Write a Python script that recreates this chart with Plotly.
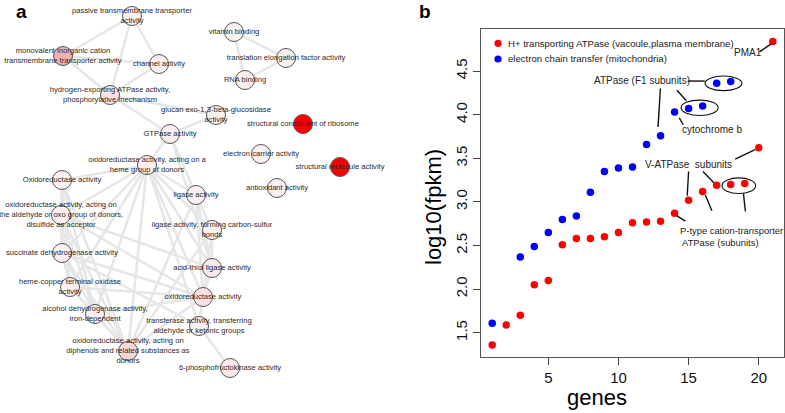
import plotly.graph_objects as go

W, H = 785, 413
FONT = "Liberation Sans, Arial, sans-serif"

# ---- panel a: GO term network (positions in reference pixels) ----
node_labels = [
    "passive transmembrane transporter<br>activity",
    "monovalent inorganic cation<br>transmembrane transporter activity",
    "channel activity",
    "hydrogen-exporting ATPase activity,<br>phosphorylative mechanism",
    "glucan exo-1,3-beta-glucosidase<br>activity",
    "GTPase activity",
    "vitamin binding",
    "translation elongation factor activity",
    "RNA binding",
    "structural constituent of ribosome",
    "oxidoreductase activity, acting on a<br>heme group of donors",
    "Oxidoreductase activity",
    "oxidoreductase activity, acting on<br>the aldehyde or oxo group of donors,<br>disulfide as acceptor",
    "succinate dehydrogenase activity",
    "electron carrier activity",
    "structural molecule activity",
    "antioxidant activity",
    "ligase activity",
    "ligase activity, forming carbon-sulfur<br>bonds",
    "acid-thiol ligase activity",
    "oxidoreductase activity",
    "transferase activity, transferring<br>aldehyde or ketonic groups",
    "6-phosphofructokinase activity",
    "heme-copper terminal oxidase<br>activity",
    "alcohol dehydrogenase activity,<br>iron-dependent",
    "oxidoreductase activity, acting on<br>diphenols and related substances as<br>donors",
]
node_x = [132, 63, 159, 110, 216, 170, 234, 286, 245, 303, 147, 62, 61, 62, 261, 340, 277,
          196, 212, 212, 203, 199, 230, 70, 95, 128]
node_y = [16, 56, 64, 95, 115, 134, 32, 58, 80, 124, 165, 180, 215, 253, 154, 167, 188,
          195, 230, 268, 297, 326, 368, 287, 314, 351]
node_fill = ["#fcefef", "#f4b0b0", "#fcefef", "#fbe2e2", "#fcefef", "#fcefef", "#fcefef",
             "#fcefef", "#fcefef", "#ff0000", "#fcefef", "#fcefef", "#fcefef", "#fcefef",
             "#fcefef", "#ff0000", "#fcefef", "#fcefef", "#fcefef", "#fce9e9", "#fbe2e2",
             "#fcefef", "#fce9e9", "#fcefef", "#fcefef", "#f9d4d4"]
edges = [
    (0, 1), (0, 2), (0, 3), (1, 2), (1, 3), (2, 3), (3, 5), (3, 4), (4, 5),
    (6, 7), (6, 8), (7, 8),
    (5, 10), (5, 17), (5, 19),
    (10, 11), (10, 12), (10, 13), (10, 23), (10, 24), (10, 25), (10, 17), (10, 18),
    (10, 19), (10, 20), (10, 21),
    (11, 12), (11, 13), (11, 23), (11, 24), (11, 25),
    (12, 13), (12, 23), (12, 24), (12, 25), (12, 20), (12, 19),
    (13, 23), (13, 24), (13, 25), (13, 20), (13, 21),
    (23, 24), (23, 25), (23, 20), (24, 25), (24, 20),
    (25, 20), (25, 17), (25, 18),
    (17, 18), (17, 19), (17, 20), (18, 19), (18, 20), (19, 20), (20, 21), (21, 22),
]

# ---- panel b: expression of ATPase / electron transfer genes ----
red_genes = list(range(1, 22))
red_log_fpkm = [1.36, 1.59, 1.70, 2.05, 2.10, 2.51, 2.58, 2.58, 2.60, 2.65, 2.76, 2.77,
                2.78, 2.87, 3.02, 3.12, 3.19, 3.20, 3.21, 3.62, 4.84]
blue_genes = [1] + list(range(3, 19))
blue_log_fpkm = [1.61, 2.37, 2.49, 2.65, 2.80, 2.84, 3.11, 3.35, 3.39, 3.40, 3.66, 3.76,
                 4.03, 4.07, 4.10, 4.36, 4.38]
legend_labels = ["H+ transporting ATPase (vacoule,plasma membrane)",
                 "electron chain transfer (mitochondria)"]
x_ticks = [5, 10, 15, 20]
y_ticks = [1.5, 2.0, 2.5, 3.0, 3.5, 4.0, 4.5]


def px(x):
    return x / W


def py(y):
    return 1 - y / H


fig = go.Figure()

ex, ey = [], []
for a, b in edges:
    ex += [node_x[a], node_x[b], None]
    ey += [node_y[a], node_y[b], None]
fig.add_trace(go.Scatter(x=ex, y=ey, mode="lines", xaxis="x2", yaxis="y2",
                         line=dict(color="#e6e6e6", width=2.5), hoverinfo="skip"))
fig.add_trace(go.Scatter(
    x=node_x, y=node_y, mode="markers+text", xaxis="x2", yaxis="y2",
    text=node_labels, textposition="middle center", cliponaxis=False,
    textfont=dict(family=FONT, size=7.6, color="#2a2a2a"),
    marker=dict(size=19, color=node_fill, line=dict(color="#555555", width=1)),
))

fig.add_trace(go.Scatter(x=red_genes, y=red_log_fpkm, mode="markers",
                         marker=dict(size=7.5, color="#ff0000"), name=legend_labels[0]))
fig.add_trace(go.Scatter(x=blue_genes, y=blue_log_fpkm, mode="markers",
                         marker=dict(size=7.5, color="#0000ff"), name=legend_labels[1]))

shapes = []
# legend dots
for yy, col in [(43.3, "#ff0000"), (59, "#0000ff")]:
    shapes.append(dict(type="circle", xref="paper", yref="paper", xsizemode="pixel",
                       ysizemode="pixel", xanchor=px(498), yanchor=py(yy),
                       x0=-3.6, x1=3.6, y0=-3.6, y1=3.6, fillcolor=col, line_width=0))
# callout lines (data coords)
callout_lines = [
    (20.05, 4.72, 20.86, 4.81),
    (14.93, 4.386, 16.15, 4.386),
    (12.99, 4.30, 12.82, 3.86),
    (14.17, 4.28, 14.84, 4.16),
    (14.33, 3.965, 14.62, 3.885),
    (18.32, 3.49, 19.74, 3.60),
    (15.00, 3.35, 14.90, 3.07),
    (16.02, 3.35, 16.80, 3.22),
    (18.91, 3.096, 19.05, 2.89),
    (16.19, 3.08, 16.66, 2.90),
    (14.17, 2.84, 14.77, 2.78),
]
for x0, y0, x1, y1 in callout_lines:
    shapes.append(dict(type="line", xref="x", yref="y", x0=x0, y0=y0, x1=x1, y1=y1,
                       line=dict(color="#111111", width=1.4)))
for x0, x1, y0, y1 in [(16.17, 18.80, 4.276, 4.444), (14.46, 17.11, 3.992, 4.168),
                       (17.38, 19.78, 3.096, 3.276)]:
    shapes.append(dict(type="circle", xref="x", yref="y", x0=x0, x1=x1, y0=y0, y1=y1,
                       line=dict(color="#111111", width=1.1)))

annotations = [
    dict(text="<b>a</b>", x=px(14), y=py(12), font=dict(family=FONT, size=19, color="#000")),
    dict(text="<b>b</b>", x=px(425), y=py(12), font=dict(family=FONT, size=19, color="#000")),
    dict(text=legend_labels[0], x=px(506), y=py(43.3), xanchor="left", font=dict(family=FONT, size=9.6, color="#222")),
    dict(text=legend_labels[1], x=px(506), y=py(59), xanchor="left", font=dict(family=FONT, size=9.6, color="#222")),
    dict(text="genes", x=px(629), y=py(397), font=dict(family=FONT, size=22, color="#000")),
    dict(text="log10(fpkm)", x=px(433), y=py(207), textangle=-90, font=dict(family=FONT, size=22, color="#000")),
]
for text, x, y, xa, size in [
    ("PMA1", 19.2, 4.71, "center", 10),
    ("ATPase (F1 subunits)", 11.66, 4.39, "center", 10),
    ("cytochrome b", 16.66, 3.833, "center", 10),
    ("V-ATPase  subunits", 15.0, 3.431, "center", 10),
    ("P-type cation-transporter<br> ATPase (subunits)", 14.25, 2.60, "left", 9.4),
]:
    annotations.append(dict(text=text, x=x, y=y, xref="x", yref="y", xanchor=xa, align="left",
                            font=dict(family=FONT, size=size, color="#222222")))
for a in annotations:
    a.setdefault("xref", "paper")
    a.setdefault("yref", "paper")
    a.setdefault("showarrow", False)
    a.setdefault("yanchor", "middle")

fig.update_layout(
    width=W, height=H, margin=dict(l=0, r=0, t=0, b=0),
    paper_bgcolor="white", plot_bgcolor="white", showlegend=False,
    shapes=shapes, annotations=annotations,
    xaxis=dict(domain=[px(481), px(784)], range=[0.2, 21.8], tickvals=x_ticks,
               ticks="outside", ticklen=7, tickcolor="#444", showgrid=False, zeroline=False,
               showline=True, mirror=True, linecolor="#555", linewidth=1.2,
               tickfont=dict(family=FONT, size=15, color="#111")),
    yaxis=dict(domain=[py(357), py(29)], range=[1.222, 4.983], tickvals=y_ticks,
               tickformat=".1f", tickangle=-90,
               ticks="outside", ticklen=7, tickcolor="#444", showgrid=False, zeroline=False,
               showline=True, mirror=True, linecolor="#555", linewidth=1.2,
               tickfont=dict(family=FONT, size=15, color="#111")),
    xaxis2=dict(domain=[0, px(470)], range=[0, 470], visible=False, anchor="y2"),
    yaxis2=dict(domain=[0, 1], range=[H, 0], visible=False, anchor="x2"),
)

# the page body has a default 8px margin; drop it so the figure sits at the window origin
fig.write_html("out.html", config={"displayModeBar": False},
               post_script="document.body.style.margin='0px';")
